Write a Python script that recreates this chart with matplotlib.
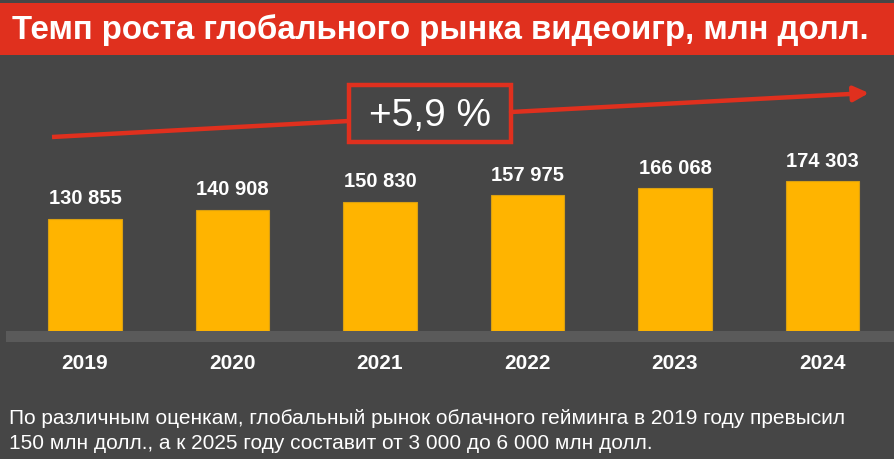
import matplotlib.pyplot as plt
from matplotlib.patches import Rectangle

# ===========================
#      Data
# ===========================
years = ["2019", "2020", "2021", "2022", "2023", "2024"]
values = [130855, 140908, 150830, 157975, 166068, 174303]
value_labels = ["130 855", "140 908", "150 830", "157 975", "166 068", "174 303"]
growth_label = "+5,9 %"
title = "Темп роста глобального рынка видеоигр, млн долл."
note_lines = ["По различным оценкам, глобальный рынок облачного гейминга в 2019 году превысил",
              "150 млн долл., а к 2025 году составит от 3 000 до 6 000 млн долл."]

BG = "#464646"
RED = "#E0301E"
BAR = "#FFB400"
W, H = 894, 460

plt.rcParams['font.family'] = ['Liberation Sans', 'DejaVu Sans']

fig = plt.figure(figsize=(W / 100, H / 100), dpi=100, facecolor=BG)

def fx(px):
    return px / W

def fy(py):
    return 1 - py / H

# title banner
fig.patches.append(Rectangle((0, fy(56)), 1, fy(4) - fy(56), transform=fig.transFigure,
                             facecolor=RED, edgecolor="none", zorder=0))
fig.text(fx(12), fy(30), title, color="white", fontsize=23.8, fontweight="bold",
         ha="left", va="center")

# baseline strip
fig.patches.append(Rectangle((fx(6), fy(343)), 1 - fx(6), fy(332) - fy(343),
                             transform=fig.transFigure, facecolor="#5A5A5A",
                             edgecolor="none", zorder=0))

# ===========================
#  Bars
# ===========================
ax = fig.add_axes([fx(11.25), fy(332), fx(885), fy(60) - fy(332)])
ax.set_facecolor("none")
x = list(range(len(years)))
ax.bar(x, values, width=0.495, color=BAR, edgecolor="#D9A012", linewidth=0.8)
ax.set_xlim(-0.5, 5.5)
ax.set_ylim(0, 272 * 1165)
ax.axis("off")

for xi, v, lab in zip(x, values, value_labels):
    ax.annotate(lab, (xi, v), xytext=(0, 8.5), textcoords="offset points",
                ha="center", va="bottom", color="white", fontsize=14.5, fontweight="bold")
    ax.annotate(years[xi], (xi, 0), xytext=(0, -23), textcoords="offset points",
                ha="center", va="center", color="white", fontsize=15, fontweight="bold",
                annotation_clip=False)

# growth arrow and box
arr = fig.add_axes([0, 0, 1, 1], facecolor="none")
arr.set_xlim(0, W)
arr.set_ylim(H, 0)
arr.axis("off")
arr.plot([52, 349], [138, 122], color=RED, lw=3.2, solid_capstyle="butt")
arr.annotate("", xy=(869, 94), xytext=(511, 113),
             arrowprops=dict(arrowstyle="-|>,head_length=0.9,head_width=0.45",
                             color=RED, lw=3.2, shrinkA=0, shrinkB=0))
arr.add_patch(Rectangle((349, 86), 162, 57, facecolor=BG, edgecolor=RED, lw=3.2))
arr.text(430, 116, growth_label, color="white", fontsize=28, ha="center", va="center")

fig.text(fx(9), fy(419), note_lines[0], color="white", fontsize=15, va="center")
fig.text(fx(9), fy(444), note_lines[1], color="white", fontsize=15, va="center")

plt.savefig("out.png", dpi=100, facecolor=BG)
